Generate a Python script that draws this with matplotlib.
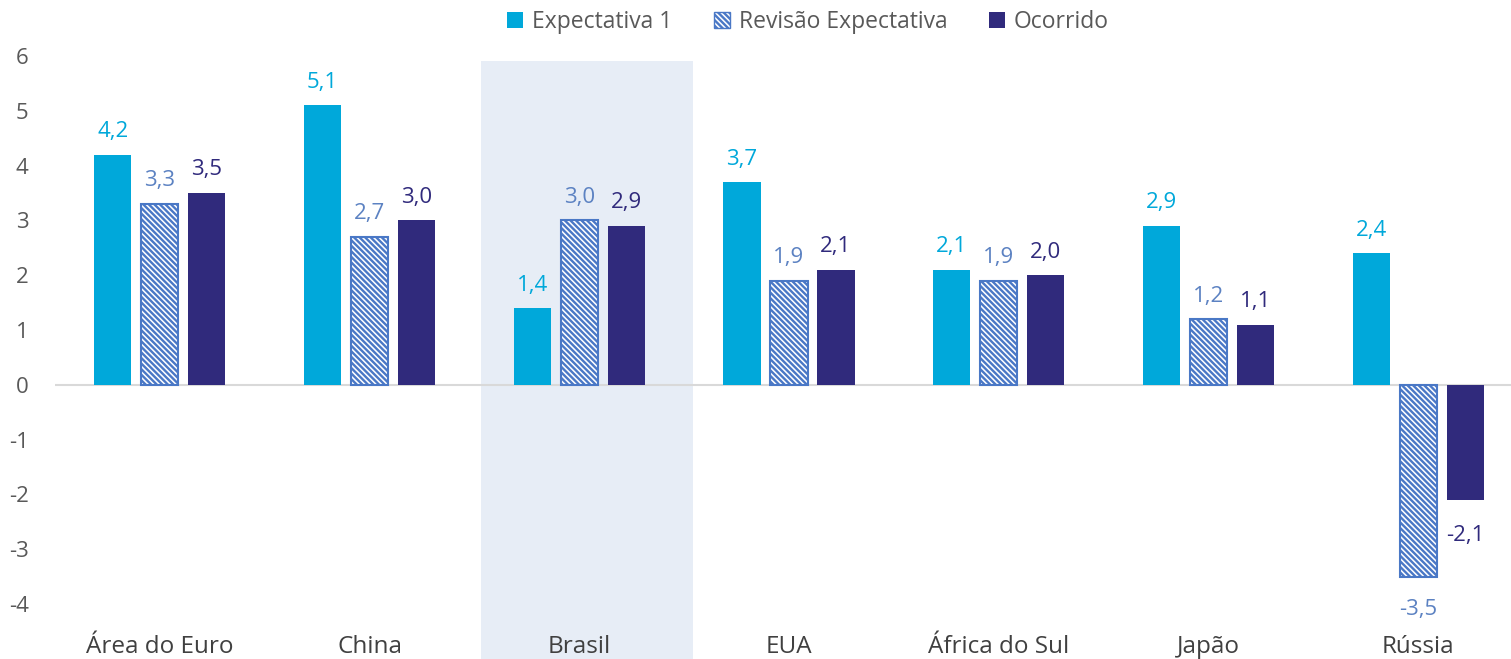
import numpy as np
import matplotlib.pyplot as plt
from matplotlib.patches import Patch

plt.rcParams['font.family'] = ['Open Sans', 'DejaVu Sans']
plt.rcParams['hatch.linewidth'] = 1.7
plt.rcParams['axes.unicode_minus'] = False

paises = ['Área do Euro', 'China', 'Brasil', 'EUA', 'África do Sul', 'Japão', 'Rússia']
expectativa = [4.2, 5.1, 1.4, 3.7, 2.1, 2.9, 2.4]
revisao = [3.3, 2.7, 3.0, 1.9, 1.9, 1.2, -3.5]
ocorrido = [3.5, 3.0, 2.9, 2.1, 2.0, 1.1, -2.1]

c_exp = '#00A8DA'
c_rev = '#4A78C6'
c_rev_txt = '#5C82C2'
c_oco = '#302A7C'
c_txt = '#595959'

fig = plt.figure(figsize=(15.11, 6.59), dpi=100)
ax = fig.add_axes([55 / 1511, 55 / 659, 1468 / 1511, 548 / 659])

x = np.arange(len(paises))
w = 0.177
d = 0.224
hatch = '\\' * 6

# destaque Brasil
ax.axvspan(1.53, 2.54, ymin=-0.11, ymax=0.991, color='#E7EDF6', zorder=0,
           clip_on=False, lw=0)

ax.bar(x - d, expectativa, w, color=c_exp, zorder=2)
ax.bar(x, revisao, w, color='white', edgecolor=c_rev, hatch=hatch, lw=1.5, zorder=2)
ax.bar(x + d, ocorrido, w, color=c_oco, zorder=2)

ax.axhline(0, color='#D9D9D9', lw=1.5, zorder=1)

fs = 16

def rot(vals, off, cor, neg_off=-10):
    for xi, v in zip(x + off, vals):
        s = f'{v:.1f}'.replace('.', ',')
        if v >= 0:
            ax.annotate(s, (xi, v), xytext=(0, 9), textcoords='offset points',
                        ha='center', va='bottom', color=cor, fontsize=fs)
        else:
            ax.annotate(s, (xi, v), xytext=(0, neg_off), textcoords='offset points',
                        ha='center', va='top', color=cor, fontsize=fs)

rot(expectativa, -d, c_exp)
rot(revisao, 0, c_rev_txt, neg_off=-16)
rot(ocorrido, d, c_oco, neg_off=-18)

ax.set_xlim(-0.5, 6.5)
ax.set_ylim(-4, 6)
ax.set_yticks(range(-4, 7))
ax.set_xticks(x)
ax.set_xticklabels(paises)
ax.tick_params(axis='y', length=0, pad=19, labelsize=16, labelcolor=c_txt)
ax.tick_params(axis='x', length=0, pad=22, labelsize=17.5, labelcolor='#404040')
for s in ax.spines.values():
    s.set_visible(False)
ax.set_facecolor('none')

handles = [Patch(facecolor=c_exp),
           Patch(facecolor='white', edgecolor=c_rev, hatch=hatch),
           Patch(facecolor=c_oco)]
fig.legend(handles, ['Expectativa 1', 'Revisão Expectativa', 'Ocorrido'],
           loc='center', bbox_to_anchor=(808 / 1511, 1 - 22 / 659), ncol=3,
           frameon=False, fontsize=16.5, labelcolor=c_txt, handlelength=0.7,
           handleheight=0.7, handletextpad=0.4, columnspacing=1.8)

fig.savefig('out.png', dpi=100)
